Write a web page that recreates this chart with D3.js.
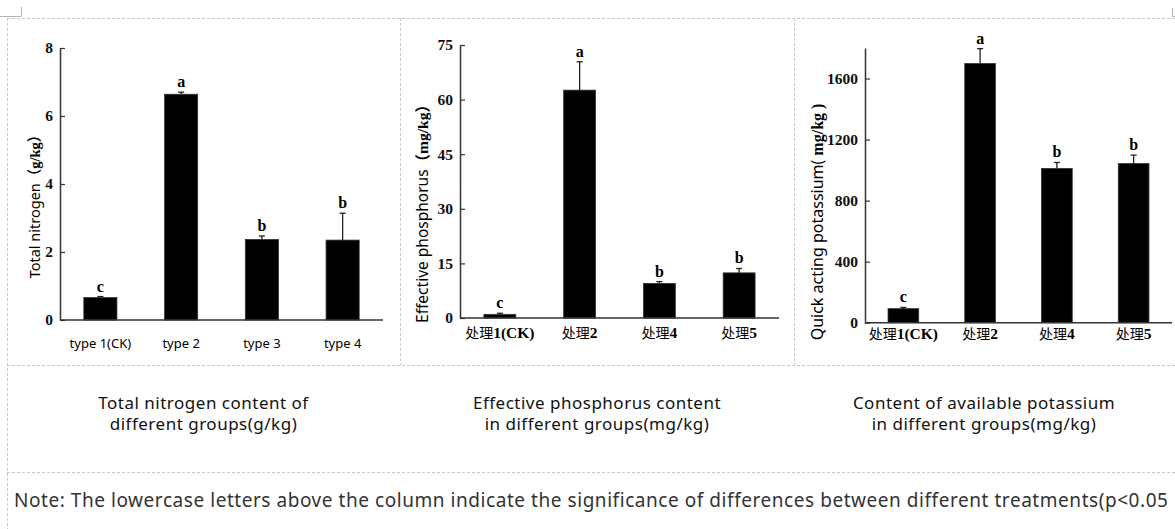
<!DOCTYPE html>
<html>
<head>
<meta charset="utf-8">
<title>Soil nutrients by group</title>
<script src="https://d3js.org/d3.v7.min.js"></script>
<style>
  body { margin: 0; background: #fff; }
  svg { display: block; }
</style>
</head>
<body>
<div id="viz"></div>
<script>

// data
var nLabels = ["type 1(CK)", "type 2", "type 3", "type 4"];
var nValues = [0.66, 6.64, 2.37, 2.35];
var nErrors = [0.03, 0.06, 0.10, 0.79];
var nLetters = ["c", "a", "b", "b"];
var nTicks = [0, 2, 4, 6, 8];

var pLabels = ["1(CK)", "2", "4", "5"];   // prefixed with 处理
var pValues = [1.0, 62.6, 9.5, 12.4];
var pErrors = [0.3, 7.8, 0.5, 1.2];
var pLetters = ["c", "a", "b", "b"];
var pTicks = [0, 15, 30, 45, 60, 75];

var kLabels = ["1(CK)", "2", "4", "5"];
var kValues = [92, 1698, 1011, 1043];
var kErrors = [8, 98, 39, 55];
var kLetters = ["c", "a", "b", "b"];
var kTicks = [0, 400, 800, 1200, 1600];

var captions = [
  ["Total nitrogen content of", "different groups(g/kg)"],
  ["Effective phosphorus content", "in different groups(mg/kg)"],
  ["Content of available potassium", "in different groups(mg/kg)"]
];
var note = "Note: The lowercase letters above the column indicate the significance of differences between different treatments(p<0.05";

var W = 1175, H = 529;
var svg = d3.select("#viz").append("svg")
  .attr("width", W).attr("height", H);

svg.append("rect").attr("width", W).attr("height", H).attr("fill", "#fff");

// table grid (dashed like a word processor)
var grid = svg.append("g")
  .attr("stroke", "#c9c9c9").attr("stroke-dasharray", "3,2").attr("fill", "none");
grid.append("line").attr("x1", 7).attr("x2", W).attr("y1", 18.5).attr("y2", 18.5);
grid.append("line").attr("x1", 7).attr("x2", W).attr("y1", 365.5).attr("y2", 365.5);
grid.append("line").attr("x1", 7).attr("x2", W).attr("y1", 472.5).attr("y2", 472.5);
grid.append("line").attr("x1", 7.5).attr("x2", 7.5).attr("y1", 18).attr("y2", H);
grid.append("line").attr("x1", 400.5).attr("x2", 400.5).attr("y1", 18).attr("y2", 365);
grid.append("line").attr("x1", 794.5).attr("x2", 794.5).attr("y1", 18).attr("y2", 365);

// corner marks
var marks = svg.append("g").attr("stroke", "#b5b5b5").attr("fill", "none");
marks.append("path").attr("d", "M0,16.5H21.5V7");
marks.append("path").attr("d", "M1175,16.5H1172.5V8");

function panel(cfg) {
  var g = svg.append("g");
  var x = d3.scaleBand()
    .domain(d3.range(cfg.values.length))
    .range([cfg.x0, cfg.x1])
    .paddingInner(cfg.pad).paddingOuter(cfg.pad / 2);
  var y = d3.scaleLinear().domain([0, cfg.max]).range([cfg.y0, cfg.y1]);

  // bars
  g.selectAll(".bar").data(cfg.values).enter().append("rect")
    .attr("x", function(d, i) { return x(i); })
    .attr("width", x.bandwidth())
    .attr("y", function(d) { return y(d); })
    .attr("height", function(d) { return y(0) - y(d); })
    .attr("fill", "#000")
    .attr("stroke", "#333").attr("stroke-width", 0.8);

  // error bars (upper only)
  var eb = g.selectAll(".err").data(cfg.values).enter().append("g")
    .attr("stroke", "#222").attr("stroke-width", 1.3);
  eb.append("line")
    .attr("x1", function(d, i) { return x(i) + x.bandwidth() / 2; })
    .attr("x2", function(d, i) { return x(i) + x.bandwidth() / 2; })
    .attr("y1", function(d) { return y(d); })
    .attr("y2", function(d, i) { return y(d + cfg.errors[i]); });
  eb.append("line")
    .attr("x1", function(d, i) { return x(i) + x.bandwidth() / 2 - 3; })
    .attr("x2", function(d, i) { return x(i) + x.bandwidth() / 2 + 3; })
    .attr("y1", function(d, i) { return y(d + cfg.errors[i]); })
    .attr("y2", function(d, i) { return y(d + cfg.errors[i]); });

  // significance letters
  g.selectAll(".lt").data(cfg.values).enter().append("text")
    .attr("x", function(d, i) { return x(i) + x.bandwidth() / 2; })
    .attr("y", function(d, i) { return y(d + cfg.errors[i]) - 5; })
    .attr("text-anchor", "middle")
    .attr("font-family", "'Liberation Serif', serif")
    .attr("font-weight", "bold").attr("font-size", 16)
    .text(function(d, i) { return cfg.letters[i]; });

  // y axis
  var ya = g.append("g")
    .attr("transform", "translate(" + cfg.x0 + ",0)")
    .call(d3.axisLeft(y).tickValues(cfg.ticks).tickFormat(d3.format("d"))
      .tickSizeInner(-5).tickSizeOuter(0).tickPadding(7));
  ya.select(".domain").attr("stroke", "#333").attr("stroke-width", 1.5);
  ya.selectAll(".tick line").attr("stroke", "#333").attr("stroke-width", 1.2);
  ya.selectAll(".tick text")
    .attr("font-family", "'Liberation Serif', serif")
    .attr("font-weight", "bold").attr("font-size", 15.5).attr("fill", "#111");

  // x axis line
  g.append("line")
    .attr("x1", cfg.x0).attr("x2", cfg.x1)
    .attr("y1", y(0)).attr("y2", y(0))
    .attr("stroke", "#333").attr("stroke-width", 1.5);

  // x labels
  var xl = g.selectAll(".xl").data(cfg.labels).enter().append("text")
    .attr("x", function(d, i) { return x(i) + x.bandwidth() / 2; })
    .attr("y", y(0) + cfg.labelDy)
    .attr("text-anchor", "middle");
  if (cfg.cjk) {
    xl.append("tspan")
      .attr("font-family", "'Noto Sans CJK SC', sans-serif")
      .attr("font-size", 14).attr("font-weight", "normal")
      .text("处理");
    xl.append("tspan")
      .attr("font-family", "'Liberation Serif', serif")
      .attr("font-size", 15.5).attr("font-weight", "bold")
      .text(function(d) { return d; });
  } else {
    xl.attr("font-family", "'Noto Sans', sans-serif").attr("font-size", 13)
      .text(function(d) { return d; });
  }

  // y title
  var yt = g.append("text")
    .attr("transform", "translate(" + cfg.titleX + "," + cfg.titleY + ") rotate(-90)")
    .attr("text-anchor", "middle");
  yt.append("tspan")
    .attr("font-family", "'Noto Sans', sans-serif").attr("font-size", cfg.titleSize)
    .text(cfg.title[0]);
  yt.append("tspan")
    .attr("font-family", "'Liberation Serif', 'Noto Sans CJK SC', serif")
    .attr("font-weight", "bold").attr("font-size", cfg.titleSize)
    .text(cfg.title[1]);
}

panel({
  labels: nLabels, values: nValues, errors: nErrors, letters: nLetters, ticks: nTicks,
  max: 8, x0: 60, x1: 383, y0: 320, y1: 48, pad: 0.59, labelDy: 28, cjk: false,
  title: ["Total nitrogen", "（g/kg）"], titleX: 40, titleY: 203, titleSize: 14.5
});
panel({
  labels: pLabels, values: pValues, errors: pErrors, letters: pLetters, ticks: pTicks,
  max: 75, x0: 460, x1: 779, y0: 318, y1: 45, pad: 0.6, labelDy: 20, cjk: true,
  title: ["Effective phosphorus", "（mg/kg）"], titleX: 428, titleY: 210, titleSize: 15.5
});
panel({
  labels: kLabels, values: kValues, errors: kErrors, letters: kLetters, ticks: kTicks,
  max: 1800, x0: 865, x1: 1172, y0: 322.7, y1: 48, pad: 0.6, labelDy: 16, cjk: true,
  title: ["Quick acting potassium(", " mg/kg )"], titleX: 823, titleY: 222, titleSize: 16
});

// captions
var capX = [203.5, 597, 984];
captions.forEach(function(lines, i) {
  var t = svg.append("text")
    .attr("text-anchor", "middle")
    .attr("font-family", "'Noto Sans', sans-serif")
    .attr("font-size", 17).attr("letter-spacing", 0.5).attr("fill", "#111");
  lines.forEach(function(s, j) {
    t.append("tspan").attr("x", capX[i]).attr("y", 409 + j * 21).text(s);
  });
});

svg.append("text")
  .attr("x", 14).attr("y", 507)
  .attr("font-family", "'Noto Sans', sans-serif")
  .attr("font-size", 19).attr("letter-spacing", 0.55).attr("fill", "#333")
  .text(note);

</script>
</body>
</html>
